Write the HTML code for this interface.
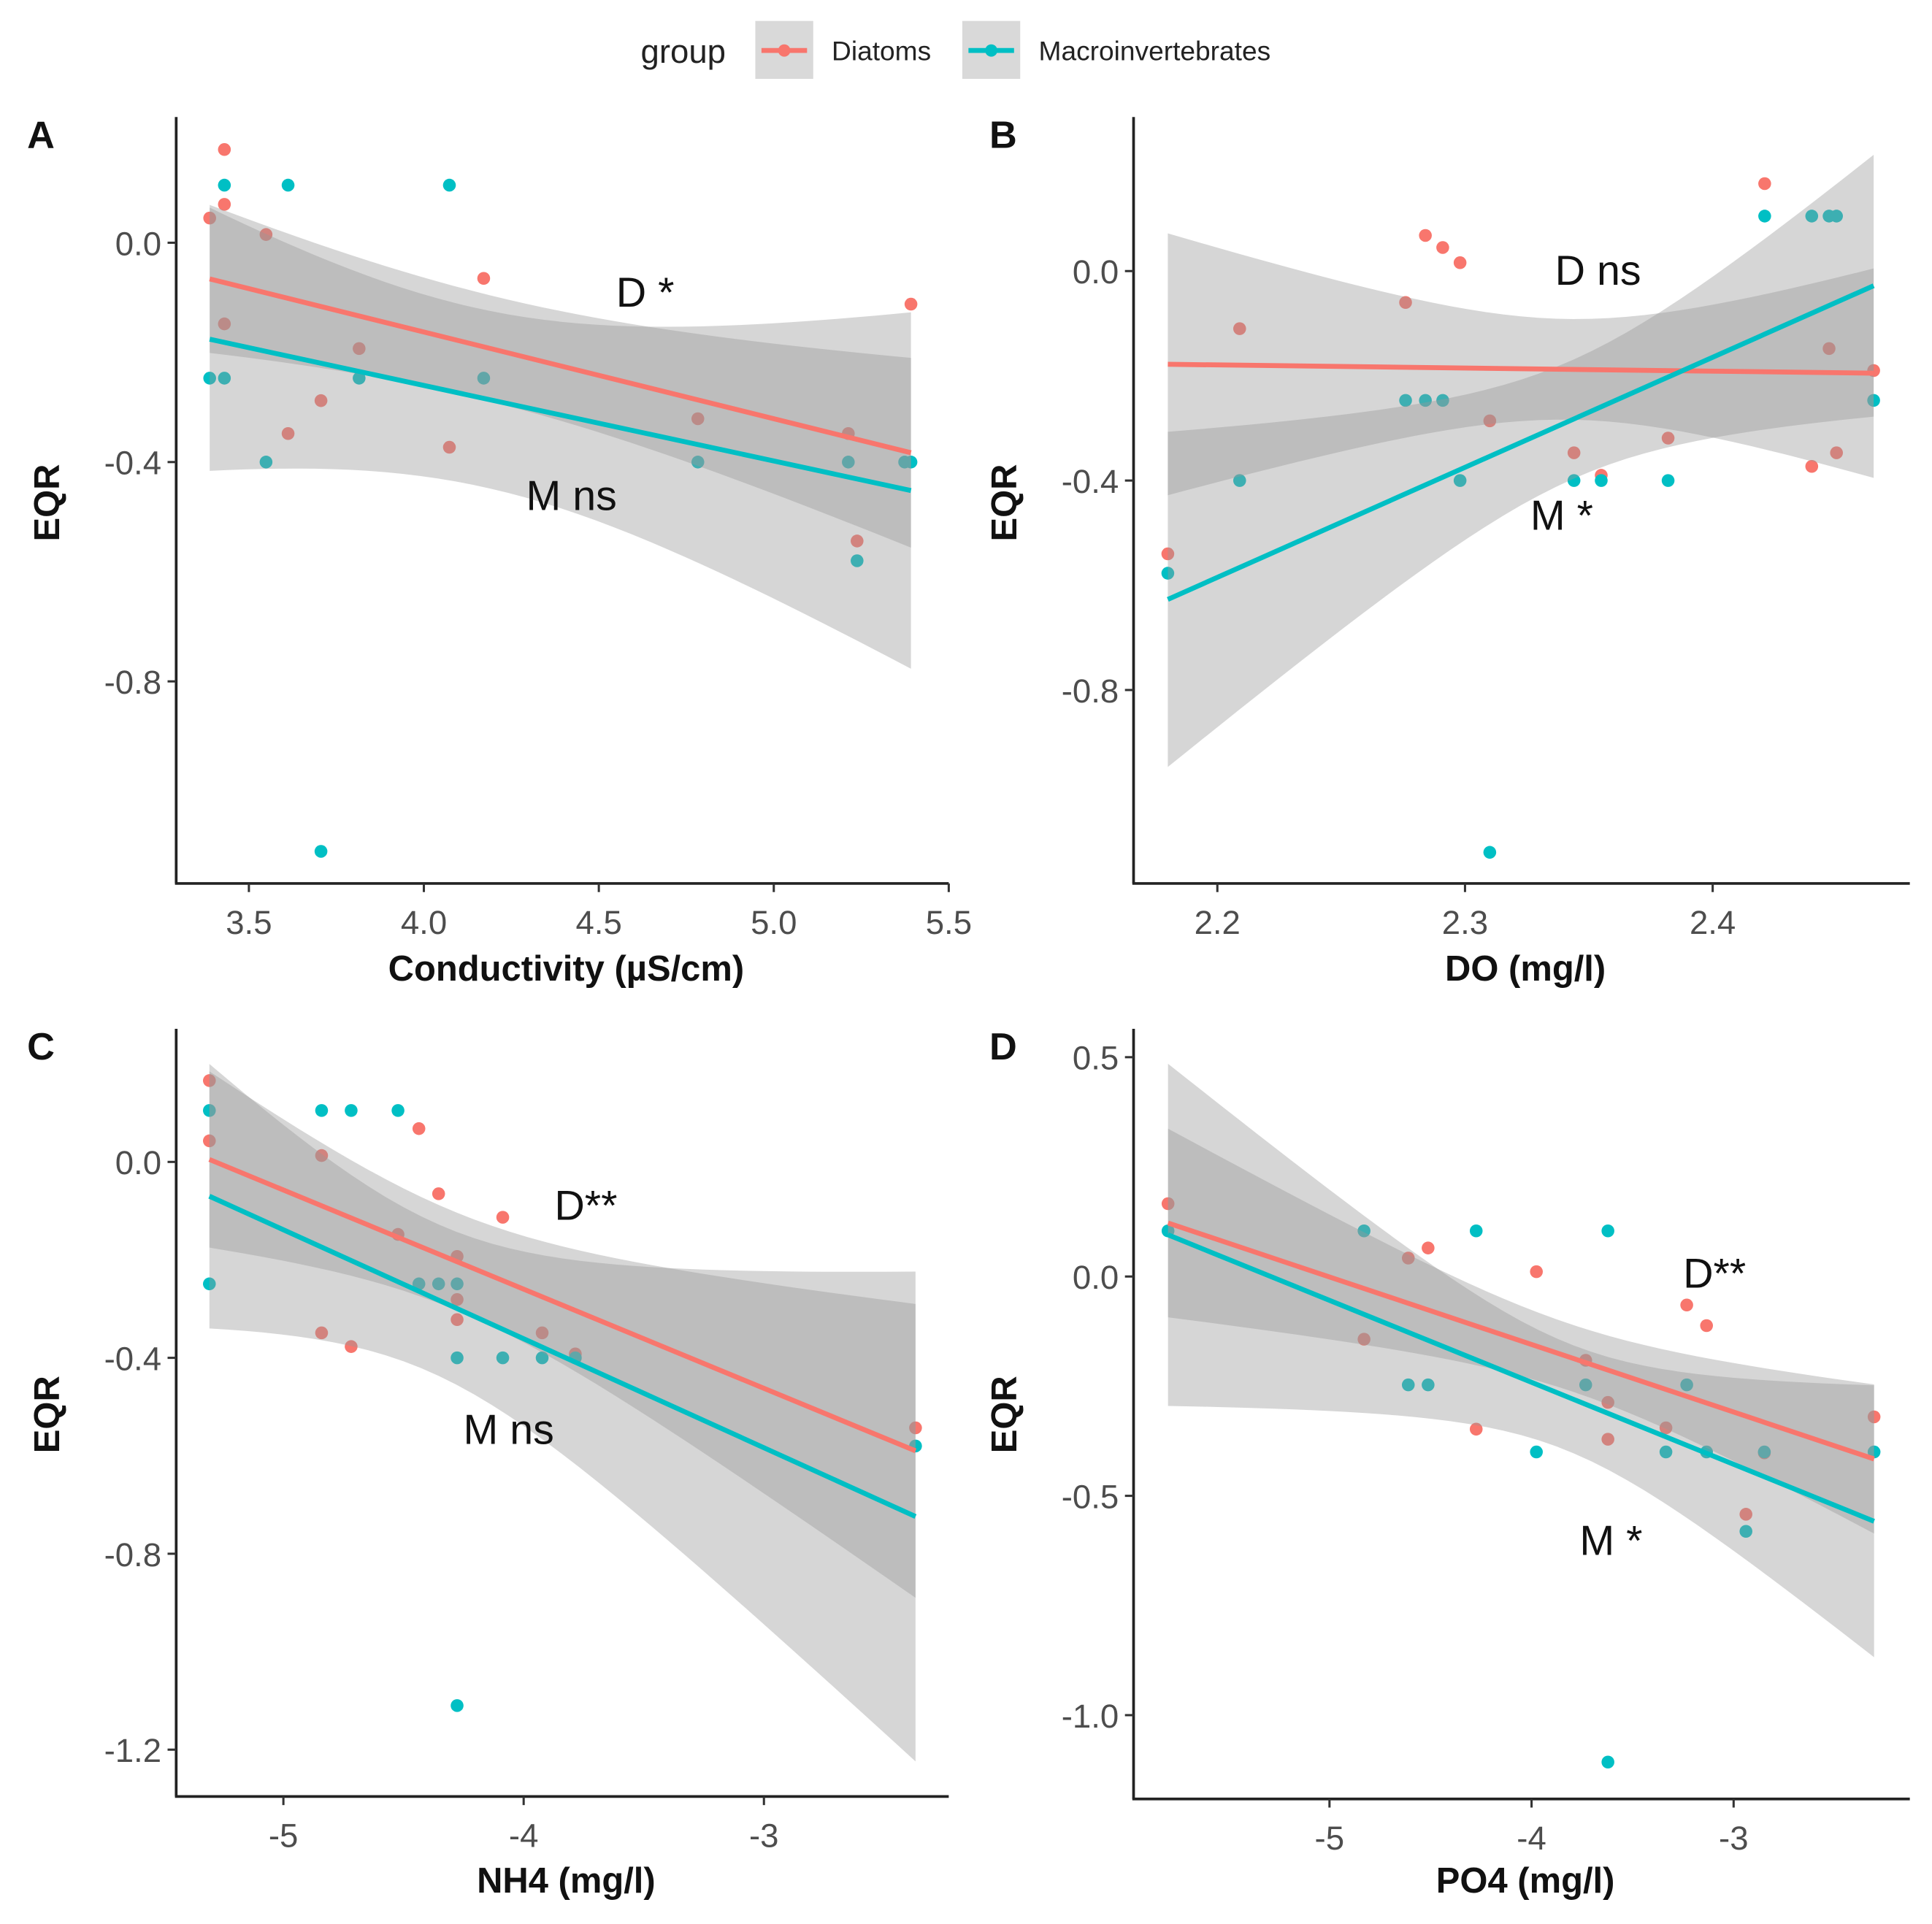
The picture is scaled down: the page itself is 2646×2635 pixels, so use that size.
<!DOCTYPE html>
<html><head><meta charset="utf-8">
<style>
html,body{margin:0;padding:0;background:#fff;}
svg{display:block;}
text{font-family:"Liberation Sans",Arial,sans-serif;}
</style></head>
<body>
<svg id="chart" xmlns="http://www.w3.org/2000/svg" width="2646" height="2635" viewBox="0 0 1568 1561.5" preserveAspectRatio="none">
  <g>
    <text x="520" y="51" font-size="27" fill="#222">group</text>
    <g>
      <rect x="613" y="17" width="47" height="47" fill="#d9d9d9"/>
      <line x1="618" y1="41" x2="655" y2="41" stroke="#F8766D" stroke-width="4"/>
      <circle cx="636.5" cy="41" r="5" fill="#F8766D"/>
      <text x="675" y="49" font-size="22" fill="#222">Diatoms</text>
    </g>
    <g>
      <rect x="781" y="17" width="47" height="47" fill="#d9d9d9"/>
      <line x1="786" y1="41" x2="823" y2="41" stroke="#00BFC4" stroke-width="4"/>
      <circle cx="804.5" cy="41" r="5" fill="#00BFC4"/>
      <text x="843" y="49" font-size="22" fill="#222">Macroinvertebrates</text>
    </g>
  </g>
</svg>
<script>
// ---------- DATA ----------
// Panel A: Conductivity
const aDiatomX = [3.388,3.43,3.43,3.549,3.43,3.815,3.706,3.612,4.073,4.171,4.783,5.213,5.238,5.392];
const aDiatomY = [0.045,0.17,0.07,0.015,-0.148,-0.193,-0.288,-0.348,-0.373,-0.065,-0.321,-0.348,-0.544,-0.112];
const aMacroX = [3.388,3.43,3.43,3.612,4.073,3.549,3.815,4.171,3.706,4.783,5.213,5.238,5.374,5.392];
const aMacroY = [-0.247,-0.247,0.105,0.105,0.105,-0.4,-0.247,-0.247,-1.11,-0.4,-0.4,-0.58,-0.4,-0.4];
const aFitRange = [3.388,5.392];
const aDiatomFit = [-0.066,-0.383];
const aMacroFit = [-0.176,-0.452];
const aDiatomHW = [0.135,0.1,0.173];
const aMacroHW = [0.24,0.17,0.325];
// Panel B: DO
const bDiatomX = [2.180,2.209,2.276,2.284,2.291,2.298,2.310,2.344,2.355,2.382,2.421,2.440,2.447,2.450,2.465];
const bDiatomY = [-0.54,-0.11,-0.06,0.068,0.045,0.016,-0.286,-0.347,-0.39,-0.319,0.167,-0.373,-0.148,-0.347,-0.19];
const bMacroX = [2.180,2.209,2.276,2.284,2.291,2.298,2.310,2.344,2.355,2.382,2.421,2.440,2.447,2.450,2.465];
const bMacroY = [-0.577,-0.4,-0.247,-0.247,-0.247,-0.4,-1.11,-0.4,-0.4,-0.4,0.105,0.105,0.105,0.105,-0.247];
const bFitRange = [2.180,2.465];
const bDiatomFit = [-0.178,-0.195];
const bMacroFit = [-0.627,-0.028];
const bDiatomHW = [0.25,0.1,0.2];
const bMacroHW = [0.32,0.12,0.25];
// Panel C: NH4
const cDiatomX = [-5.308,-5.308,-4.841,-4.841,-4.718,-4.523,-4.436,-4.354,-4.277,-4.277,-4.277,-4.087,-3.923,-3.785,-2.369];
const cDiatomY = [0.166,0.043,0.013,-0.349,-0.377,-0.148,0.068,-0.065,-0.193,-0.281,-0.322,-0.113,-0.349,-0.392,-0.543];
const cMacroX = [-5.308,-5.308,-4.841,-4.718,-4.523,-4.436,-4.354,-4.277,-4.277,-4.277,-4.087,-3.923,-3.785,-2.369];
const cMacroY = [0.105,-0.249,0.105,0.105,0.105,-0.249,-0.249,-0.249,-0.4,-1.11,-0.4,-0.4,-0.4,-0.58];
const cFitRange = [-5.308,-2.369];
const cDiatomFit = [0.005,-0.59];
const cMacroFit = [-0.07,-0.724];
const cDiatomHW = [0.18,0.12,0.3];
const cMacroHW = [0.27,0.2,0.5];
// Panel D: PO4
const dDiatomX = [-5.799,-4.829,-4.61,-4.512,-4.274,-3.976,-3.732,-3.622,-3.622,-3.335,-3.232,-3.134,-2.939,-2.848,-2.305];
const dDiatomY = [0.166,-0.143,0.042,0.065,-0.348,0.011,-0.191,-0.287,-0.371,-0.345,-0.065,-0.112,-0.542,-0.402,-0.32];
const dMacroX = [-5.799,-4.829,-4.61,-4.512,-4.274,-3.976,-3.732,-3.622,-3.622,-3.335,-3.232,-3.134,-2.939,-2.848,-2.305];
const dMacroY = [0.104,0.104,-0.247,-0.247,0.104,-0.4,-0.247,0.104,-1.107,-0.4,-0.247,-0.4,-0.581,-0.4,-0.4];
const dFitRange = [-5.799,-2.305];
const dDiatomFit = [0.122,-0.416];
const dMacroFit = [0.095,-0.558];
const dDiatomHW = [0.215,0.08,0.17];
const dMacroHW = [0.39,0.13,0.31];
// tick labels
const aXTicks = [3.5,4.0,4.5,5.0,5.5];
const aXTickLabels = ["3.5","4.0","4.5","5.0","5.5"];
const aYTicks = [0,-0.4,-0.8];
const aYTickLabels = ["0.0","-0.4","-0.8"];
const bXTicks = [2.2,2.3,2.4];
const bXTickLabels = ["2.2","2.3","2.4"];
const bYTicks = [0,-0.4,-0.8];
const bYTickLabels = ["0.0","-0.4","-0.8"];
const cXTicks = [-5,-4,-3];
const cXTickLabels = ["-5","-4","-3"];
const cYTicks = [0,-0.4,-0.8,-1.2];
const cYTickLabels = ["0.0","-0.4","-0.8","-1.2"];
const dXTicks = [-5,-4,-3];
const dXTickLabels = ["-5","-4","-3"];
const dYTicks = [0.5,0,-0.5,-1.0];
const dYTickLabels = ["0.5","0.0","-0.5","-1.0"];

// ---------- LAYOUT ----------
const NS = "http://www.w3.org/2000/svg";
const svg = document.getElementById('chart');
function mk(tag, attrs, parent){
  const e = document.createElementNS(NS, tag);
  for (const k in attrs) e.setAttribute(k, attrs[k]);
  (parent||svg).appendChild(e);
  return e;
}
function linScale(d0,d1,r0,r1){ return v => r0 + (v-d0)*(r1-r0)/(d1-d0); }

const panels = [
  {key:'a', letter:'A', title:'Conductivity  (µS/cm)', ax:143, ay:717, top:95, right:770,
   xs:linScale(3.5,4.0,202,344), ys:linScale(0,-0.4,197,375),
   xt:aXTicks, xl:aXTickLabels, yt:aYTicks, yl:aYTickLabels,
   dX:aDiatomX,dY:aDiatomY,mX:aMacroX,mY:aMacroY,fr:aFitRange,dF:aDiatomFit,mF:aMacroFit,dH:aDiatomHW,mH:aMacroHW,
   ann:[["D *",500,249],["M ns",427,414]], lx:22, ly:120, eqry:408, ttly:796},
  {key:'b', letter:'B', title:'DO (mg/l)', ax:920, ay:717, top:95, right:1550,
   xs:linScale(2.2,2.4,988,1390), ys:linScale(0,-0.4,220,390),
   xt:bXTicks, xl:bXTickLabels, yt:bYTicks, yl:bYTickLabels,
   dX:bDiatomX,dY:bDiatomY,mX:bMacroX,mY:bMacroY,fr:bFitRange,dF:bDiatomFit,mF:bMacroFit,dH:bDiatomHW,mH:bMacroHW,
   ann:[["D ns",1262,231],["M *",1242,430]], lx:803, ly:120, eqry:408, ttly:796},
  {key:'c', letter:'C', title:'NH4 (mg/l)', ax:143, ay:1458, top:835, right:770,
   xs:linScale(-5,-4,230,425), ys:linScale(0,-0.4,943,1102),
   xt:cXTicks, xl:cXTickLabels, yt:cYTicks, yl:cYTickLabels,
   dX:cDiatomX,dY:cDiatomY,mX:cMacroX,mY:cMacroY,fr:cFitRange,dF:cDiatomFit,mF:cMacroFit,dH:cDiatomHW,mH:cMacroHW,
   ann:[["D**",450,990],["M ns",376,1172]], lx:22, ly:860, eqry:1148, ttly:1536},
  {key:'d', letter:'D', title:'PO4 (mg/l)', ax:920, ay:1460, top:835, right:1550,
   xs:linScale(-5,-4,1079,1243), ys:linScale(0,-0.5,1036,1214),
   xt:dXTicks, xl:dXTickLabels, yt:dYTicks, yl:dYTickLabels,
   dX:dDiatomX,dY:dDiatomY,mX:dMacroX,mY:dMacroY,fr:dFitRange,dF:dDiatomFit,mF:dMacroFit,dH:dDiatomHW,mH:dMacroHW,
   ann:[["D**",1366,1045],["M *",1282,1262]], lx:803, ly:860, eqry:1148, ttly:1536}
];

const RED = '#F8766D', CYAN = '#00BFC4';

function hwAt(x, fr, hw){
  const x0=fr[0], x2=fr[1], x1=(x0+x2)/2;
  const y0=hw[0]*hw[0], y1=hw[1]*hw[1], y2=hw[2]*hw[2];
  const L0=((x-x1)*(x-x2))/((x0-x1)*(x0-x2));
  const L1=((x-x0)*(x-x2))/((x1-x0)*(x1-x2));
  const L2=((x-x0)*(x-x1))/((x2-x0)*(x2-x1));
  return Math.sqrt(Math.max(0.0001, y0*L0+y1*L1+y2*L2));
}
function fitAt(x, fr, f){ return f[0] + (f[1]-f[0])*(x-fr[0])/(fr[1]-fr[0]); }

panels.forEach(p => {
  const g = mk('g', {});
  
  

  const pts = mk('g', {}, g);
  
  
  p.dX.forEach((x,i) => {
    const c = mk('circle', {cx:p.xs(x), cy:p.ys(p.dY[i]), r:5.2, fill:RED}, pts);
    
    
  });
  p.mX.forEach((x,i) => {
    const c = mk('circle', {cx:p.xs(x), cy:p.ys(p.mY[i]), r:5.2, fill:CYAN}, pts);
    
    
  });

  [[p.dF,p.dH,'diatom'],[p.mF,p.mH,'macro']].forEach(([f,hw,nm]) => {
    const N = 40, up = [], lo = [];
    for (let i=0;i<=N;i++){
      const x = p.fr[0] + (p.fr[1]-p.fr[0])*i/N;
      const c = fitAt(x,p.fr,f), h = hwAt(x,p.fr,hw);
      up.push(p.xs(x).toFixed(2)+','+p.ys(c+h).toFixed(2));
      lo.push(p.xs(x).toFixed(2)+','+p.ys(c-h).toFixed(2));
    }
    const poly = mk('polygon', {points: up.concat(lo.reverse()).join(' '), fill:'#999999', 'fill-opacity':0.4}, g);
    
    
  });
  [[p.dF,RED,'diatom'],[p.mF,CYAN,'macro']].forEach(([f,col,nm]) => {
    const l = mk('line', {x1:p.xs(p.fr[0]), y1:p.ys(f[0]), x2:p.xs(p.fr[1]), y2:p.ys(f[1]), stroke:col, 'stroke-width':4}, g);
    
    
  });

  const ya = mk('line', {x1:p.ax, y1:p.top, x2:p.ax, y2:p.ay, stroke:'#222', 'stroke-width':2.2}, g);
  
  
  const xa = mk('line', {x1:p.ax-1, y1:p.ay, x2:p.right, y2:p.ay, stroke:'#222', 'stroke-width':2.2}, g);
  
  

  p.xt.forEach((v,i) => {
    const x = p.xs(v);
    const t = mk('line', {x1:x, y1:p.ay, x2:x, y2:p.ay+7, stroke:'#333', 'stroke-width':1.8}, g);
    
    
    const tx = mk('text', {x:x, y:p.ay+41, 'font-size':27, fill:'#4d4d4d', 'text-anchor':'middle'}, g);
    
    
    tx.textContent = p.xl[i];
  });
  p.yt.forEach((v,i) => {
    const y = p.ys(v);
    const t = mk('line', {x1:p.ax-7, y1:y, x2:p.ax, y2:y, stroke:'#333', 'stroke-width':1.8}, g);
    
    
    const tx = mk('text', {x:p.ax-12, y:y+10, 'font-size':27, fill:'#4d4d4d', 'text-anchor':'end'}, g);
    
    
    tx.textContent = p.yl[i];
  });

  const xt = mk('text', {x:(p.ax+p.right)/2+3, y:p.ttly, 'font-size':29, 'font-weight':'bold', fill:'#111', 'text-anchor':'middle'}, g);
  
  
  xt.textContent = p.title;
  const ex = p.ax - 95;
  const yt = mk('text', {x:ex, y:p.eqry, 'font-size':29, 'font-weight':'bold', fill:'#111', 'text-anchor':'middle', transform:'rotate(-90 '+ex+' '+p.eqry+')'}, g);
  
  
  yt.textContent = 'EQR';

  const lt = mk('text', {x:p.lx, y:p.ly, 'font-size':31, 'font-weight':'bold', fill:'#111'}, g);
  
  
  lt.textContent = p.letter;

  p.ann.forEach(a => {
    const t = mk('text', {x:a[1], y:a[2], 'font-size':34, fill:'#111'}, g);
    
    
    t.textContent = a[0];
  });
});
</script>
</body></html>
